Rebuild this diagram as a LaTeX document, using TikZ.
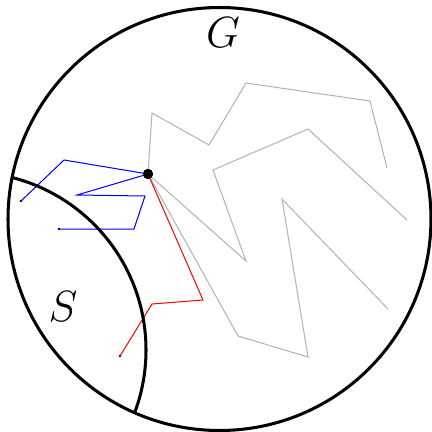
\documentclass[tikz,border=0pt]{standalone}
\usepackage{amsmath}
\usepackage{amssymb}
\usepackage{tikz}
\usetikzlibrary{positioning}

\begin{document}
\begin{tikzpicture}[x=0.01389cm, y=-0.01389cm,
  region/.style={line width=1.2pt},
  graywalk/.style={draw=black!30, line width=0.4pt},
  bluewalk/.style={draw=blue, line width=0.4pt},
  redwalk/.style={draw=red, line width=0.4pt},
  root/.style={circle, fill=black, inner sep=0pt, minimum size=4pt},
  leaf/.style={circle, fill=black, inner sep=0pt, minimum size=1pt}]
  \useasboundingbox (0,0) rectangle (432,432);

  \coordinate (centre) at (219.5,219);
  \coordinate (scentre) at (-32,350);
  \node[root] (v) at (148,174) {};

  % grey walks
  \coordinate (a1) at (152,113);
  \coordinate (a2) at (209,145);
  \coordinate (a3) at (246,83);
  \coordinate (a4) at (370,101);
  \coordinate (a5) at (387,168);
  \coordinate (b1) at (246,261);
  \coordinate (b2) at (213,170);
  \coordinate (b3) at (308,129);
  \coordinate (b4) at (407,220);
  \coordinate (c1) at (238,336);
  \coordinate (c2) at (308,357);
  \coordinate (c3) at (282,199);
  \coordinate (c4) at (388,309);

  % blue and red walks
  \coordinate (p1) at (64,160);
  \node[leaf] (p2) at (21,201) {};
  \coordinate (q1) at (77,195);
  \coordinate (q2) at (145,196);
  \coordinate (q3) at (134,229);
  \node[leaf] (q4) at (59,229) {};
  \coordinate (r1) at (203,300);
  \coordinate (r2) at (152,304);
  \node[leaf] (r3) at (120,356) {};

  \draw[graywalk] (v.center) -- (a1) -- (a2) -- (a3) -- (a4) -- (a5);
  \draw[graywalk] (v.center) -- (b1) -- (b2) -- (b3) -- (b4);
  \draw[graywalk] (v.center) -- (c1) -- (c2) -- (c3) -- (c4);

  \draw[bluewalk] (v.center) -- (p1) -- (p2.center);
  \draw[bluewalk] (v.center) -- (q1) -- (q2) -- (q3) -- (q4.center);
  \draw[redwalk] (v.center) -- (r1) -- (r2) -- (r3.center);

  % the graph and the set S
  \draw[region] (centre) circle [radius=211.5];
  \begin{scope}
    \clip (centre) circle [radius=211.5];
    \draw[region] (scentre) circle [radius=178];
  \end{scope}

  \node[root] at (v) {};
  \node (G) at (223,33) {\LARGE $G$};
  \node (S) at (63,307) {\LARGE $S$};
\end{tikzpicture}
\end{document}
